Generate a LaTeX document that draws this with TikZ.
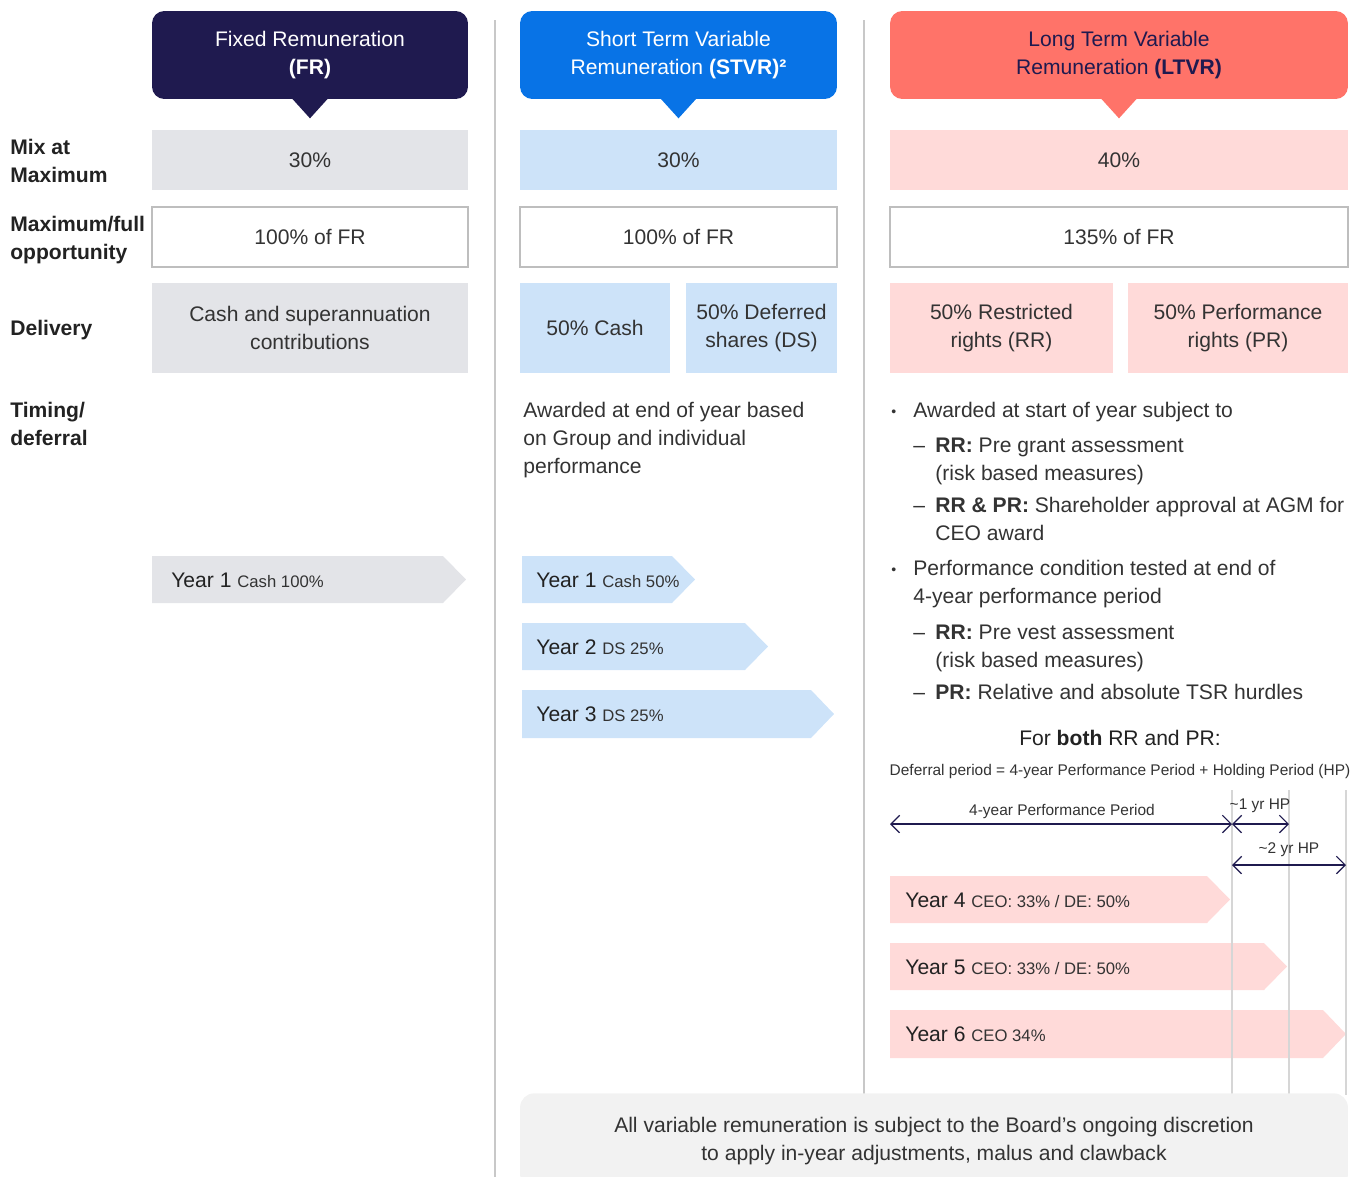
\documentclass[tikz,border=0pt]{standalone}
\usepackage{fontspec}
\setmainfont{Liberation Sans}
\usepackage{tikz}
\usetikzlibrary{arrows.meta,positioning}
\usepackage{xcolor}
\definecolor{rmnavy}{RGB}{31,26,79}
\definecolor{rmblue}{RGB}{8,115,230}
\definecolor{rmsalmon}{RGB}{255,115,105}
\definecolor{rmgray}{RGB}{227,228,232}
\definecolor{rmlightblue}{RGB}{205,227,249}
\definecolor{rmpink}{RGB}{255,218,217}
\definecolor{rmborder}{RGB}{190,190,190}
\definecolor{rmsep}{RGB}{200,200,200}
\definecolor{rmguide}{RGB}{214,214,214}
\definecolor{rmnote}{RGB}{242,242,242}
\definecolor{rmlabel}{RGB}{34,34,34}
\definecolor{rmbody}{RGB}{51,51,51}
\tikzstyle{header} = [rectangle, rounded corners=7pt, minimum height=1.76cm, align=center, inner sep=0pt, font=\fontsize{12}{15.9}\selectfont]
\tikzstyle{cell} = [rectangle, minimum height=1.2cm, align=center, inner sep=0pt, text=rmbody, font=\fontsize{12}{15.9}\selectfont]
\tikzstyle{optcell} = [cell, fill=white, draw=rmborder, line width=0.8pt]
\tikzstyle{rowlabel} = [anchor=base west, align=left, inner sep=0pt, text=rmlabel, font=\bfseries\fontsize{12}{15.9}\selectfont]
\tikzstyle{bodytext} = [anchor=base west, align=left, inner sep=0pt, text=rmbody, font=\fontsize{12}{15.9}\selectfont]
\tikzstyle{yeartext} = [anchor=base west, inner sep=0pt, text=rmlabel, font=\fontsize{12}{15.9}\selectfont]
\tikzstyle{smalltext} = [anchor=base, inner sep=0pt, text=rmbody, font=\fontsize{8.8}{11}\selectfont]
\tikzstyle{period} = [draw=rmnavy, line width=0.7pt, {Straight Barb[length=5pt,width=10pt]}-{Straight Barb[length=5pt,width=10pt]}]
\tikzstyle{sepline} = [draw=rmsep, line width=0.9pt]
\tikzstyle{guide} = [draw=rmguide, line width=0.8pt]
\tikzstyle{notebox} = [rectangle, rounded corners=8pt, fill=rmnote, minimum width=16.56cm, minimum height=1.9cm, align=center, text=rmbody, font=\fontsize{12}{15.9}\selectfont]

\begin{document}
\begin{tikzpicture}[x=0.02cm, y=-0.02cm]
\useasboundingbox (0,0) rectangle (1357,1177);
\clip (0,0) rectangle (1357,1177);

% Column separators
\draw[sepline] (495,20) -- (495,1177);
\draw[sepline] (864,20) -- (864,1177);

% Headers
\node (fr) [header, fill=rmnavy, text=white, minimum width=6.32cm] at (310,55) {Fixed Remuneration\\\textbf{(FR)}};
\node (stvr) [header, fill=rmblue, text=white, minimum width=6.34cm] at (678.5,55) {Short Term Variable\\Remuneration \textbf{(STVR)²}};
\node (ltvr) [header, fill=rmsalmon, text=rmnavy, minimum width=9.16cm] at (1119,55) {Long Term Variable\\Remuneration \textbf{(LTVR)}};
\fill[rmnavy] ([xshift=-0.36cm,yshift=0.5pt]fr.south) -- ([yshift=-0.38cm]fr.south) -- ([xshift=0.36cm,yshift=0.5pt]fr.south) -- cycle;
\fill[rmblue] ([xshift=-0.36cm,yshift=0.5pt]stvr.south) -- ([yshift=-0.38cm]stvr.south) -- ([xshift=0.36cm,yshift=0.5pt]stvr.south) -- cycle;
\fill[rmsalmon] ([xshift=-0.36cm,yshift=0.5pt]ltvr.south) -- ([yshift=-0.38cm]ltvr.south) -- ([xshift=0.36cm,yshift=0.5pt]ltvr.south) -- cycle;

% Row labels
\node (mixlab) [rowlabel] at (10,182) {Mix at\\Maximum};
\node (maxlab) [rowlabel] at (10,259) {Maximum/full\\opportunity};
\node (dellab) [rowlabel] at (10,335) {Delivery};
\node (timlab) [rowlabel] at (10,445) {Timing/\\deferral};

% Mix at maximum
\node (frmix) [cell, fill=rmgray, minimum width=6.32cm] at (310,160) {30\%};
\node (stmix) [cell, fill=rmlightblue, minimum width=6.34cm] at (678.5,160) {30\%};
\node (ltmix) [cell, fill=rmpink, minimum width=9.16cm] at (1119,160) {40\%};

% Maximum opportunity
\node (frmax) [optcell, minimum width=6.32cm] at (310,237) {100\% of FR};
\node (stmax) [optcell, minimum width=6.34cm] at (678.5,237) {100\% of FR};
\node (ltmax) [optcell, minimum width=9.16cm] at (1119,237) {135\% of FR};

% Delivery
\node (frdel) [cell, fill=rmgray, minimum width=6.32cm, minimum height=1.8cm] at (310,328) {Cash and superannuation\\contributions};
\node (stcash) [cell, fill=rmlightblue, minimum width=3.0cm, minimum height=1.8cm] at (595,328) {50\% Cash};
\node (stds) [cell, fill=rmlightblue, minimum width=3.02cm, minimum height=1.8cm] at (761.5,328) {50\% Deferred\\shares (DS)};
\node (ltrr) [cell, fill=rmpink, minimum width=4.46cm, minimum height=1.8cm] at (1001.5,328) {50\% Restricted\\rights (RR)};
\node (ltpr) [cell, fill=rmpink, minimum width=4.4cm, minimum height=1.8cm] at (1238,328) {50\% Performance\\rights (PR)};

% Timing - STVR
\node (sttime) [bodytext] at (523,473) {Awarded at end of year based\\on Group and individual\\performance};

% Timing - LTVR
\node (bul1) [bodytext, font=\fontsize{8}{10}\selectfont] at (891,416) {•};
\node (aw) [bodytext] at (913,417) {Awarded at start of year subject to};
\node (dash1) [bodytext] at (913,452) {–};
\node (rrgrant) [bodytext] at (935,480) {\textbf{RR:} Pre grant assessment\\(risk based measures)};
\node (dash2) [bodytext] at (913,512) {–};
\node (agm) [bodytext] at (935,540) {\textbf{RR \& PR:} Shareholder approval at AGM for\\CEO award};
\node (bul2) [bodytext, font=\fontsize{8}{10}\selectfont] at (891,574) {•};
\node (perf) [bodytext] at (913,603) {Performance condition tested at end of\\4-year performance period};
\node (dash3) [bodytext] at (913,639) {–};
\node (rrvest) [bodytext] at (935,667) {\textbf{RR:} Pre vest assessment\\(risk based measures)};
\node (dash4) [bodytext] at (913,699) {–};
\node (tsr) [bodytext] at (935,699) {\textbf{PR:} Relative and absolute TSR hurdles};

\node (both) [smalltext, text=rmlabel, font=\fontsize{12}{15.9}\selectfont] at (1120,745) {For \textbf{both} RR and PR:};
\node (defer) [smalltext] at (1120,775) {Deferral period = 4-year Performance Period + Holding Period (HP)};

% Year bars - FR
\fill[rmgray] (152,556) -- (443,556) -- (466,579.5) -- (443,603) -- (152,603) -- cycle;
\node (fry1) [yeartext] at (171,587) {Year 1 {\fontsize{9.5}{11}\selectfont\color{rmbody}Cash 100\%}};

% Year bars - STVR
\fill[rmlightblue] (522,556) -- (672,556) -- (695,579.5) -- (672,603) -- (522,603) -- cycle;
\fill[rmlightblue] (522,623) -- (745,623) -- (768,646.5) -- (745,670) -- (522,670) -- cycle;
\fill[rmlightblue] (522,690) -- (811,690) -- (834,714) -- (811,738) -- (522,738) -- cycle;
\node (sty1) [yeartext] at (536,587) {Year 1 {\fontsize{9.5}{11}\selectfont\color{rmbody}Cash 50\%}};
\node (sty2) [yeartext] at (536,654) {Year 2 {\fontsize{9.5}{11}\selectfont\color{rmbody}DS 25\%}};
\node (sty3) [yeartext] at (536,721) {Year 3 {\fontsize{9.5}{11}\selectfont\color{rmbody}DS 25\%}};

% Year bars - LTVR
\fill[rmpink] (890,876) -- (1207,876) -- (1230,899.5) -- (1207,923) -- (890,923) -- cycle;
\fill[rmpink] (890,943) -- (1264,943) -- (1287,966.5) -- (1264,990) -- (890,990) -- cycle;
\fill[rmpink] (890,1010) -- (1323,1010) -- (1346,1034) -- (1323,1058) -- (890,1058) -- cycle;
\node (lty4) [yeartext] at (905,907) {Year 4 {\fontsize{9.5}{11}\selectfont\color{rmbody}CEO: 33\% / DE: 50\%}};
\node (lty5) [yeartext] at (905,974) {Year 5 {\fontsize{9.5}{11}\selectfont\color{rmbody}CEO: 33\% / DE: 50\%}};
\node (lty6) [yeartext] at (905,1041) {Year 6 {\fontsize{9.5}{11}\selectfont\color{rmbody}CEO 34\%}};

% Timeline guides
\coordinate (g1top) at (1232,790);
\coordinate (g1bot) at (1232,1095);
\coordinate (g2top) at (1289,790);
\coordinate (g2bot) at (1289,1095);
\coordinate (g3top) at (1346,790);
\coordinate (g3bot) at (1346,1095);
\draw[guide] (g1top) -- (g1bot);
\draw[guide] (g2top) -- (g2bot);
\draw[guide] (g3top) -- (g3bot);

% Periods
\coordinate (pstart) at (890,824);
\coordinate (pend) at (1232,824);
\coordinate (hp1end) at (1289,824);
\coordinate (hp2start) at (1232,865);
\coordinate (hp2end) at (1346,865);
\draw[period] (pstart) -- (pend);
\draw[period] (pend) -- (hp1end);
\draw[period] (hp2start) -- (hp2end);
\node (pplab) [smalltext] at (1062,815) {4-year Performance Period};
\node (hp1lab) [smalltext] at (1260,809) {\textasciitilde1 yr HP};
\node (hp2lab) [smalltext] at (1289,853) {\textasciitilde2 yr HP};

% Note
\node (note) [notebox, anchor=north] at (934,1093) {All variable remuneration is subject to the Board’s ongoing discretion\\to apply in-year adjustments, malus and clawback};
\end{tikzpicture}
\end{document}
